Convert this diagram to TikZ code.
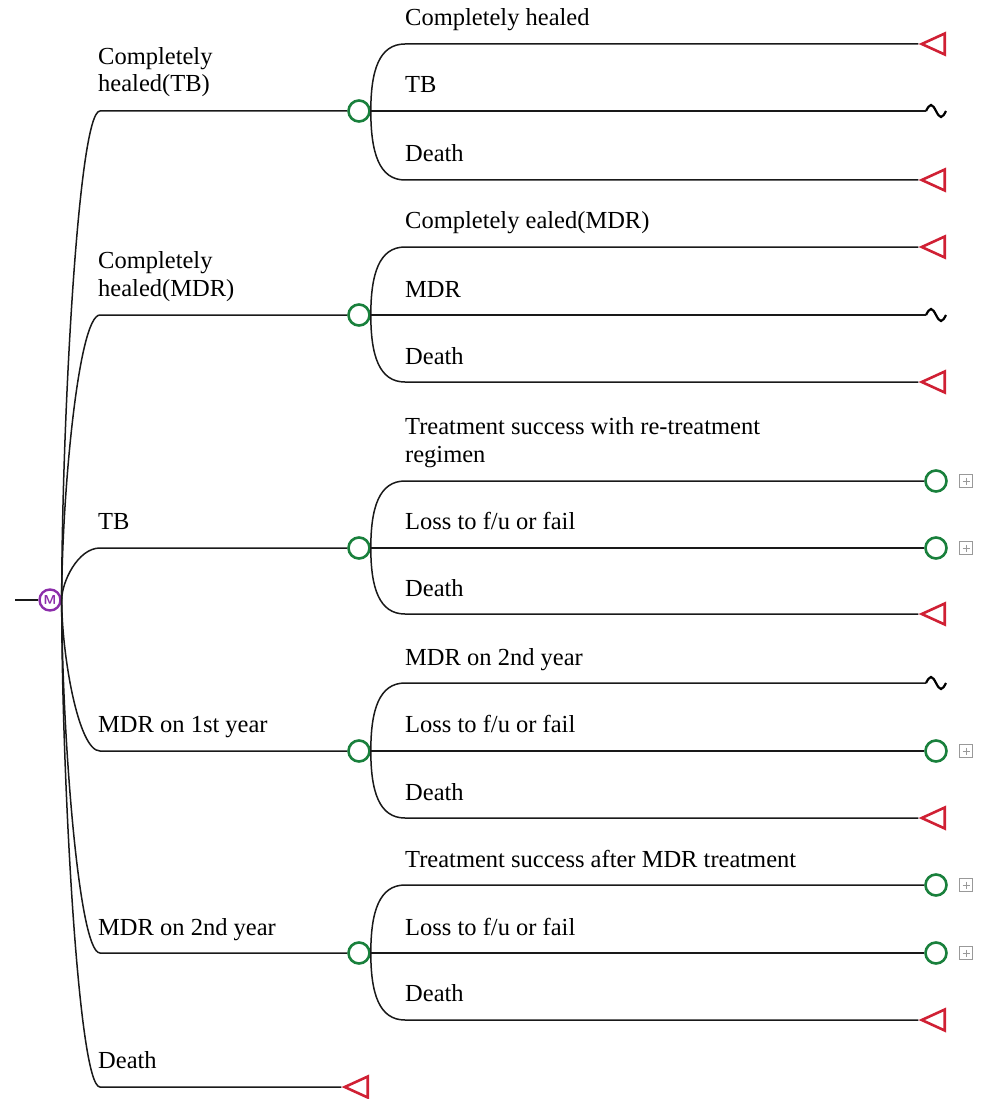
\documentclass[tikz,border=0pt]{standalone}
\usepackage{fontspec}
\setmainfont{Liberation Serif}
\usetikzlibrary{shapes.geometric}

\definecolor{chancegreen}{RGB}{25,128,60}
\definecolor{termred}{RGB}{208,32,52}
\definecolor{markovpurple}{RGB}{140,45,170}

\tikzset{
  branch/.style={line width=1.5pt,black!90},
  chance/.style={circle,draw=chancegreen,line width=2.6pt,minimum size=21pt,inner sep=0pt},
  terminal/.style={isosceles triangle,isosceles triangle stretches,shape border rotate=180,
    draw=termred,line width=2.6pt,minimum height=23pt,minimum width=21pt,inner sep=0pt},
  markov/.style={circle,draw=markovpurple,line width=2.4pt,minimum size=21pt,inner sep=0pt,
    text=markovpurple,font=\sffamily\bfseries\fontsize{13}{13}\selectfont},
  plusbox/.style={draw=gray!80,line width=1pt,minimum size=13pt,inner sep=0pt,
    path picture={\draw[gray!80,line width=1pt]
      ([yshift=-3pt]path picture bounding box.north) -- ([yshift=3pt]path picture bounding box.south)
      ([xshift=3pt]path picture bounding box.west) -- ([xshift=-3pt]path picture bounding box.east);}},
  wave/.style={line width=2.2pt,black},
  lbl/.style={anchor=base west,inner sep=0pt,align=left,
    font=\fontsize{24.5}{27.5}\selectfont}
}

\begin{document}
\begin{tikzpicture}[x=1pt,y=-1pt]
\useasboundingbox (0,0) rectangle (984,1099);

% root
\node[markov] (m) at (50,600) {M};
\coordinate (in) at (15,600);
\draw[branch] (in) -- (m);

% first level
\foreach \i/\y in {1/111,2/315,3/548,4/751,5/953}{
  \node[chance] (c\i) at (359,\y) {};
  \coordinate (b\i) at (100,\y);
  \pgfmathsetmacro\dy{0.35*(\y-600)}
  \draw[branch] (m.east) .. controls +(0,\dy) and +(-22,0) .. (b\i) -- (c\i);
}
\node[terminal] (t0) at (361,1087) {};
\coordinate (b6) at (100,1087);
\draw[branch] (m.east) .. controls +(0,171) and +(-22,0) .. (b6) -- (t0);

\node[lbl] (l1) at (98,92) {Completely\\healed(TB)};
\node[lbl] (l2) at (98,296) {Completely\\healed(MDR)};
\node[lbl] (l3) at (98,529) {TB};
\node[lbl] (l4) at (98,732) {MDR on 1st year};
\node[lbl] (l5) at (98,935) {MDR on 2nd year};
\node[lbl] (l6) at (98,1068) {Death};

% end nodes
\foreach \n/\y in {a/44,b/180,c/247,d/382,e/614,f/818,g/1020}
  \node[terminal] (t\n) at (938,\y) {};
\foreach \n/\y in {a/111,b/315,c/683}{
  \coordinate (w\n) at (926,\y);
  \draw[wave] (w\n) sin ++(5,-6) cos ++(5,6) sin ++(5,6) cos ++(5,-6);
}
\foreach \n/\y in {a/481,b/548,c/751,d/885,e/953}{
  \node[chance] (k\n) at (936,\y) {};
  \node[plusbox] (p\n) at (966,\y) {};
}

% second level
\foreach \c/\cy/\e/\y in {c1/111/ta/44,c1/111/tb/180,c2/315/tc/247,c2/315/td/382,
    c3/548/ka/481,c3/548/te/614,c4/751/wc/683,c4/751/tf/818,c5/953/kd/885,c5/953/tg/1020}{
  \pgfmathsetmacro\dy{0.6*(\y-\cy)}
  \draw[branch] (\c.east) .. controls +(0,\dy) and +(-26,0) .. (405,\y) -- (\e);
}
\foreach \c/\e in {c1/wa,c2/wb,c3/kb,c4/kc,c5/ke}
  \draw[branch] (\c) -- (\e);

\node[lbl] (s1) at (405,26) {Completely healed};
\node[lbl] (s2) at (405,93) {TB};
\node[lbl] (s3) at (405,162) {Death};
\node[lbl] (s4) at (405,229) {Completely ealed(MDR)};
\node[lbl] (s5) at (405,297) {MDR};
\node[lbl] (s6) at (405,364) {Death};
\node[lbl] (s7) at (405,462) {Treatment success with re-treatment\\regimen};
\node[lbl] (s8) at (405,529) {Loss to f/u or fail};
\node[lbl] (s9) at (405,596) {Death};
\node[lbl] (s10) at (405,665) {MDR on 2nd year};
\node[lbl] (s11) at (405,732) {Loss to f/u or fail};
\node[lbl] (s12) at (405,800) {Death};
\node[lbl] (s13) at (405,867) {Treatment success after MDR treatment};
\node[lbl] (s14) at (405,935) {Loss to f/u or fail};
\node[lbl] (s15) at (405,1001) {Death};
\end{tikzpicture}
\end{document}
